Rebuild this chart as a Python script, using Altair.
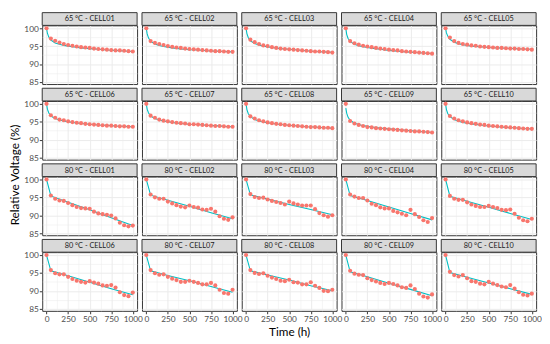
import altair as alt
import pandas as pd

FONT = "Lato"

TIMES = [0, 50, 100, 150, 200, 250, 300, 350, 400, 450, 500,
         550, 600, 650, 700, 750, 800, 850, 900, 950, 1000]
FIT_T_65 = [0, 10, 25, 50, 100, 150, 200, 300, 400, 500, 600, 700, 800, 900, 1000]
FIT_T_80 = [0, 50, 250, 500, 750, 1000]

CELLS = ["CELL01", "CELL02", "CELL03", "CELL04", "CELL05",
         "CELL06", "CELL07", "CELL08", "CELL09", "CELL10"]
TEMPS = ["65 °C", "80 °C"]

OBS_65 = [
    [100, 97.1, 96.5, 96.0, 95.6, 95.3, 95.1, 94.9, 94.7, 94.6, 94.5, 94.3, 94.2, 94.1, 94.0, 93.9, 93.8, 93.8, 93.7, 93.6, 93.5],
    [100, 96.4, 95.9, 95.6, 95.3, 95.0, 94.8, 94.6, 94.5, 94.3, 94.2, 94.1, 94.0, 93.9, 93.8, 93.7, 93.6, 93.6, 93.5, 93.4, 93.4],
    [100, 96.8, 96.1, 95.6, 95.2, 95.0, 94.7, 94.5, 94.3, 94.2, 94.1, 94.0, 93.9, 93.8, 93.7, 93.6, 93.5, 93.5, 93.4, 93.3, 93.2],
    [100, 96.4, 95.8, 95.4, 95.1, 94.9, 94.7, 94.5, 94.3, 94.2, 94.0, 93.9, 93.8, 93.6, 93.5, 93.4, 93.3, 93.2, 93.1, 93.0, 92.9],
    [100, 97.4, 96.4, 95.9, 95.6, 95.4, 95.2, 95.1, 94.9, 94.8, 94.7, 94.6, 94.5, 94.5, 94.4, 94.3, 94.3, 94.2, 94.2, 94.1, 94.0],
    [100, 96.8, 96.1, 95.6, 95.4, 95.1, 94.9, 94.7, 94.6, 94.4, 94.3, 94.2, 94.1, 94.0, 93.9, 93.9, 93.8, 93.7, 93.7, 93.6, 93.6],
    [100, 96.7, 96.1, 95.6, 95.3, 95.1, 94.9, 94.7, 94.6, 94.5, 94.3, 94.3, 94.2, 94.1, 94.0, 93.9, 93.8, 93.8, 93.7, 93.6, 93.6],
    [100, 96.5, 95.9, 95.4, 95.1, 94.8, 94.6, 94.4, 94.3, 94.1, 94.0, 93.9, 93.8, 93.7, 93.6, 93.5, 93.5, 93.4, 93.3, 93.3, 93.2],
    [100, 95.2, 94.5, 94.1, 93.8, 93.5, 93.4, 93.2, 93.1, 93.0, 92.9, 92.8, 92.7, 92.6, 92.5, 92.4, 92.3, 92.3, 92.2, 92.1, 92.0],
    [100, 96.6, 95.9, 95.4, 95.1, 94.8, 94.6, 94.4, 94.2, 94.1, 93.9, 93.8, 93.7, 93.6, 93.5, 93.4, 93.3, 93.2, 93.1, 93.0, 93.0],
]

FIT_65 = [
    [100, 98.6, 97.6, 96.7, 95.9, 95.5, 95.2, 94.8, 94.5, 94.3, 94.1, 93.9, 93.8, 93.65, 93.5],
    [100, 98.4, 97.3, 96.3, 95.6, 95.2, 94.9, 94.5, 94.2, 94.0, 93.9, 93.7, 93.6, 93.5, 93.4],
    [100, 98.5, 97.4, 96.5, 95.7, 95.3, 95.0, 94.6, 94.3, 94.1, 93.9, 93.7, 93.5, 93.4, 93.3],
    [100, 98.3, 97.2, 96.3, 95.5, 95.1, 94.8, 94.4, 94.1, 93.8, 93.6, 93.4, 93.2, 93.1, 92.9],
    [100, 98.7, 97.8, 96.9, 96.1, 95.7, 95.4, 95.0, 94.8, 94.6, 94.5, 94.4, 94.3, 94.2, 94.1],
    [100, 98.5, 97.5, 96.6, 95.9, 95.5, 95.2, 94.8, 94.5, 94.3, 94.1, 94.0, 93.8, 93.7, 93.6],
    [100, 98.5, 97.5, 96.6, 95.9, 95.5, 95.2, 94.8, 94.5, 94.3, 94.2, 94.0, 93.9, 93.7, 93.6],
    [100, 98.4, 97.3, 96.4, 95.6, 95.2, 94.9, 94.5, 94.2, 94.0, 93.8, 93.6, 93.5, 93.3, 93.2],
    [98.8, 97.4, 96.3, 95.4, 94.6, 94.2, 93.9, 93.5, 93.2, 93.0, 92.8, 92.6, 92.4, 92.2, 92.0],
    [100, 98.4, 97.3, 96.4, 95.6, 95.1, 94.8, 94.4, 94.1, 93.8, 93.6, 93.4, 93.3, 93.1, 93.0],
]

OBS_80 = [
    [100, 95.5, 94.6, 94.1, 94.0, 93.4, 92.8, 92.3, 92.0, 91.9, 91.8, 91.0, 90.5, 90.3, 90.1, 89.9, 89.1, 87.9, 87.2, 86.9, 87.1],
    [100, 95.8, 95.0, 94.6, 94.6, 93.8, 93.3, 92.8, 92.4, 92.2, 92.7, 92.3, 92.1, 91.6, 91.5, 91.8, 91.0, 89.7, 89.0, 88.7, 89.4],
    [100, 95.9, 95.1, 94.8, 94.9, 94.4, 94.0, 93.7, 93.4, 93.0, 93.8, 93.3, 93.0, 92.7, 92.7, 92.7, 91.7, 90.6, 90.0, 89.6, 90.0],
    [100, 95.8, 95.2, 94.8, 94.8, 94.1, 93.2, 92.8, 92.2, 91.9, 91.9, 91.2, 90.8, 90.4, 90.0, 91.5, 90.3, 89.5, 88.6, 88.1, 89.2],
    [100, 95.4, 94.6, 94.3, 94.3, 93.6, 93.0, 92.6, 92.3, 92.3, 92.6, 92.3, 92.0, 91.5, 91.4, 91.6, 90.4, 89.3, 88.6, 88.3, 89.0],
    [100, 95.8, 94.9, 94.6, 94.6, 93.9, 93.3, 92.8, 92.5, 92.3, 92.7, 92.3, 92.0, 91.5, 91.4, 91.6, 90.9, 89.6, 88.8, 88.5, 89.5],
    [100, 95.8, 94.9, 94.5, 94.6, 93.9, 93.4, 93.0, 92.5, 92.5, 92.8, 92.5, 92.2, 91.8, 91.8, 92.2, 91.5, 90.3, 89.4, 89.2, 90.3],
    [100, 95.8, 95.0, 94.7, 94.9, 94.2, 93.7, 93.3, 92.8, 92.7, 93.1, 92.4, 92.3, 91.8, 91.8, 92.4, 91.4, 90.8, 90.0, 89.9, 90.3],
    [100, 95.6, 94.8, 94.5, 94.4, 93.5, 93.0, 92.6, 92.2, 91.9, 92.2, 91.9, 91.5, 91.0, 90.8, 91.5, 90.5, 89.2, 88.4, 88.1, 89.0],
    [100, 95.3, 94.4, 94.0, 94.4, 93.5, 92.7, 92.5, 92.0, 91.8, 92.5, 92.0, 91.6, 91.2, 91.0, 91.6, 90.6, 89.6, 88.9, 88.7, 89.2],
]

FIT_80 = [
    [100, 95.4, 93.6, 91.5, 89.3, 87.1],
    [100, 95.6, 94.2, 92.5, 90.7, 89.0],
    [100, 95.7, 94.5, 93.0, 91.6, 90.1],
    [100, 95.5, 94.1, 92.3, 90.5, 88.7],
    [100, 95.3, 93.9, 92.2, 90.5, 88.8],
    [100, 95.6, 94.2, 92.4, 90.6, 88.9],
    [100, 95.6, 94.3, 92.8, 91.2, 89.6],
    [100, 95.6, 94.4, 93.0, 91.4, 90.0],
    [100, 95.3, 93.9, 92.1, 90.4, 88.6],
    [100, 95.1, 93.8, 92.2, 90.6, 89.0],
]

X_GRID = [0, 125, 250, 375, 500, 625, 750, 875, 1000]
Y_GRID = [85, 87.5, 90, 92.5, 95, 97.5, 100]
X_DOMAIN = [-50, 1050]
Y_DOMAIN = [84.4, 100.8]

rows = []
labels = []
for temp, obs_all, fit_all, fit_t in [(TEMPS[0], OBS_65, FIT_65, FIT_T_65),
                                       (TEMPS[1], OBS_80, FIT_80, FIT_T_80)]:
    for cell, obs, fit in zip(CELLS, obs_all, fit_all):
        label = f"{temp} - {cell}"
        labels.append(label)
        for t, v in zip(TIMES, obs):
            rows.append({"panel": label, "kind": "obs", "t": t, "v": v})
        for t, v in zip(fit_t, fit):
            rows.append({"panel": label, "kind": "fit", "t": t, "v": v})
df = pd.DataFrame(rows)

W, H, SH = 97, 60, 13

x_minor = "datum.value % 250 != 0"
y_minor = "datum.value % 5 != 0"


def make_cell(i):
    label = labels[i]
    r, c = divmod(i, 5)
    bottom = r == 3
    left = c == 0
    xaxis = alt.Axis(
        values=X_GRID,
        labelExpr="datum.value % 250 == 0 ? format(datum.value, 'd') : ''",
        labels=bottom, ticks=bottom, domain=False, grid=True,
        gridWidth={"condition": {"test": x_minor, "value": 0.5}, "value": 1},
        tickOpacity={"condition": {"test": x_minor, "value": 0}, "value": 1},
        labelFlush=False, labelPadding=1, labelOverlap=False, labelBound=False,
        title="Time (h)" if (bottom and c == 2) else None, titlePadding=4,
    )
    yaxis = alt.Axis(
        values=Y_GRID,
        labelExpr="datum.value % 5 == 0 ? format(datum.value, 'd') : ''",
        labels=left, ticks=left, domain=False, grid=True,
        gridWidth={"condition": {"test": y_minor, "value": 0.5}, "value": 1},
        tickOpacity={"condition": {"test": y_minor, "value": 0}, "value": 1},
        labelFlush=False, labelPadding=1, labelOverlap=False, labelBound=False,
        title=None,
    )
    x = alt.X("t:Q", scale=alt.Scale(domain=X_DOMAIN, nice=False, zero=False), axis=xaxis)
    y = alt.Y("v:Q", scale=alt.Scale(domain=Y_DOMAIN, nice=False, zero=False), axis=yaxis)
    base = alt.Chart(df).transform_filter(alt.datum.panel == label)
    line = base.transform_filter(alt.datum.kind == "fit").mark_line(
        color="#00BFC4", strokeWidth=1.1).encode(x=x, y=y, order="t:Q")
    pts = base.transform_filter(alt.datum.kind == "obs").mark_circle(
        color="#F8766D", size=18, opacity=1).encode(x=x, y=y)
    one = base.transform_aggregate(n="count()", groupby=["panel"])
    strip_bg = one.mark_rect(fill="#D9D9D9", stroke="#333333", strokeWidth=1).encode(
        x=alt.value(0), x2=alt.value(W), y=alt.value(-SH), y2=alt.value(0))
    strip_txt = one.mark_text(fontSize=7.5, color="#1A1A1A", font=FONT).encode(
        text="panel:N", x=alt.value(W / 2), y=alt.value(-SH / 2 + 0.5))
    return alt.layer(line, pts, strip_bg, strip_txt).properties(width=W, height=H)


cells = [make_cell(i) for i in range(20)]

chart = alt.concat(*cells, columns=5, spacing={"row": 4.3 + SH, "column": 5},
                   bounds="flush").properties(
    title=alt.TitleParams("Relative Voltage (%)", orient="left", anchor="middle",
                          fontSize=12, fontWeight="normal", font=FONT,
                          color="black", offset=1),
    padding={"left": 1, "top": 0, "right": 0, "bottom": 0},
).configure_view(stroke="#333333", strokeWidth=1).configure_axis(
    labelFont=FONT, labelFontSize=8.5, labelColor="#4D4D4D",
    tickColor="#333333", tickSize=3, gridColor="#EBEBEB",
    titleFont=FONT, titleFontSize=12, titleFontWeight="normal", titleColor="black",
)

chart.save("out.html", embed_options={"renderer": "svg", "actions": False})
